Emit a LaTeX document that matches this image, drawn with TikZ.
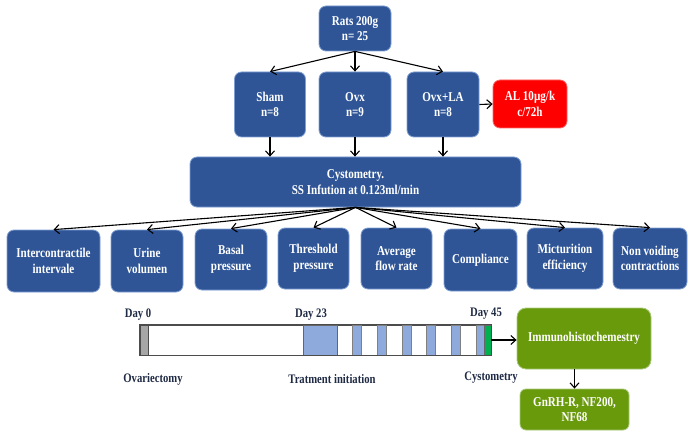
\documentclass[tikz,border=0pt]{standalone}
\usepackage{fontspec}
\setmainfont[FakeStretch=0.82]{Liberation Serif}
\usetikzlibrary{arrows.meta, positioning}
\definecolor{boxBlue}{HTML}{2F5597}
\definecolor{boxEdge}{HTML}{7F9FD3}
\definecolor{boxRed}{HTML}{FF0000}
\definecolor{boxGreen}{HTML}{699A0C}
\definecolor{greenEdge}{HTML}{A9C97A}
\definecolor{stripeBlue}{HTML}{8EA9DB}
\definecolor{labelNavy}{HTML}{1F2A44}
\definecolor{dayGreen}{HTML}{00B050}

\begin{document}
\begin{tikzpicture}[
    x=1pt, y=-1pt,
    box/.style={rectangle, rounded corners=7pt, fill=boxBlue, draw=boxEdge, line width=0.8pt, text=white, font=\fontsize{13.5}{15.6}\selectfont\bfseries, align=center, inner sep=0pt, anchor=center},
    redbox/.style={box, fill=boxRed, draw=red!60},
    greenbox/.style={box, fill=boxGreen, draw=greenEdge},
    daylabel/.style={text=labelNavy, font=\fontsize{13}{15.6}\selectfont\bfseries, inner sep=0pt, anchor=center},
    link/.style={-{Straight Barb[length=5pt, width=9pt]}, line width=1.1pt, black}
]
\useasboundingbox (0,0) rectangle (688,433);

% groups
\node[box, minimum width=72pt, minimum height=45pt] (rats) at (355, 28.5) {Rats 200g\\n= 25};
\node[box, minimum width=71pt, minimum height=65pt] (sham) at (270, 104.5) {Sham\\n=8};
\node[box, minimum width=72pt, minimum height=65pt] (ovx) at (355, 104.5) {Ovx\\n=9};
\node[box, minimum width=72pt, minimum height=65pt] (ovxla) at (443, 104.5) {Ovx+LA\\n=8};
\node[redbox, minimum width=74pt, minimum height=48pt] (dose) at (530, 104) {AL 10µg/k\\c/72h};

\node[box, minimum width=331pt, minimum height=50pt] (cysto) at (355.5, 182) {Cystometry.\\SS Infution at 0.123ml/min};

% parameters
\node[box, minimum width=93pt, minimum height=62pt] (intc) at (53.5, 261) {Intercontractile\\intervale};
\node[box, minimum width=72pt, minimum height=62pt] (urine) at (147, 261) {Urine\\volumen};
\node[box, minimum width=72pt, minimum height=61pt] (basal) at (231, 259.5) {Basal\\pressure};
\node[box, minimum width=71pt, minimum height=61pt] (thresh) at (313.5, 258.5) {Threshold\\pressure};
\node[box, minimum width=71pt, minimum height=61pt] (avgflow) at (396.5, 258.5) {Average\\flow rate};
\node[box, minimum width=73pt, minimum height=62pt] (compl) at (480.5, 260) {Compliance};
\node[box, minimum width=76pt, minimum height=61pt] (mict) at (565, 258.5) {Micturition\\efficiency};
\node[box, minimum width=74pt, minimum height=61pt] (nonvoid) at (650, 258.5) {Non voiding\\contractions};

\draw[link] (rats.south) -- (sham.north);
\draw[link] (rats.south) -- (ovx.north);
\draw[link] (rats.south) -- (ovxla.north);
\draw[link] (ovxla.east) -- (dose.west);
\draw[link] (sham.south) -- (sham.south |- cysto.north);
\draw[link] (ovx.south) -- (ovx.south |- cysto.north);
\draw[link] (ovxla.south) -- (ovxla.south |- cysto.north);
\foreach \p in {intc, urine, basal, thresh, avgflow, compl, mict, nonvoid}
    \draw[link] (cysto.south) -- (\p.north);

% timeline
\node[draw=black!70, line width=0.8pt, fill=white, minimum width=351pt, minimum height=30pt, inner sep=0pt, anchor=center] (bar) at (315.5, 340) {};
\fill[gray!70, draw=black!70] (140,325) rectangle (148,355);
\fill[stripeBlue, draw=black!60, line width=0.5pt] (303,325) rectangle (337,355);
\foreach \s in {352, 377, 402, 426, 451, 476}
    \fill[stripeBlue, draw=black!50, line width=0.4pt] (\s,325) rectangle (\s+9,355);
\fill[dayGreen, draw=black!60, line width=0.4pt] (484,325) rectangle (491,355);
\draw[black!70, line width=0.8pt] (bar.north west) rectangle (bar.south east);

\node[daylabel] (day0) at (138, 315) {Day 0};
\node[daylabel] (day23) at (311, 315) {Day 23};
\node[daylabel] (day45) at (486, 314) {Day 45};
\node[daylabel] (ovxlbl) at (153, 379) {Ovariectomy};
\node[daylabel] (treatlbl) at (332, 379) {Tratment initiation};
\node[daylabel] (cystolbl) at (491, 378) {Cystometry};

\node[greenbox, rounded corners=9pt, minimum width=134pt, minimum height=61pt] (immuno) at (584, 338.5) {Immunohistochemestry};
\node[greenbox, rounded corners=6pt, minimum width=109pt, minimum height=41pt] (markers) at (574.5, 409.5) {GnRH-R, NF200,\\NF68};

\draw[link] (bar.east) -- (immuno.west |- bar.east);
\draw[link] (immuno.south -| markers.north) -- (markers.north);
\end{tikzpicture}
\end{document}
